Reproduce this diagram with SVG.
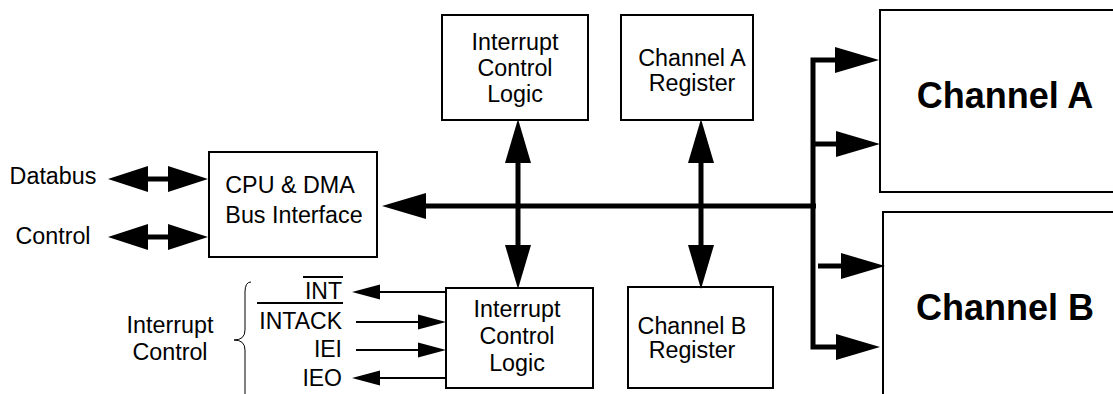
<svg xmlns="http://www.w3.org/2000/svg" width="1113" height="394" viewBox="0 0 1113 394">
<style>
.box{fill:#fff;stroke:#000;stroke-width:2}
.t{font-family:"Liberation Sans",Arial,sans-serif;font-size:23.3px;fill:#000;text-anchor:middle}
.te{font-family:"Liberation Sans",Arial,sans-serif;font-size:23px;fill:#000;text-anchor:end}
.tb{font-family:"Liberation Sans",Arial,sans-serif;font-size:36px;font-weight:bold;fill:#000;text-anchor:middle}
.bus{fill:none;stroke:#000;stroke-width:5;stroke-linejoin:miter}
.thin{fill:none;stroke:#000;stroke-width:2}
</style>
<defs>
<marker id="big" markerUnits="userSpaceOnUse" markerWidth="44" markerHeight="26" refX="0" refY="13" orient="auto-start-reverse" overflow="visible">
<path d="M0,0 L44,13 L0,26 z" fill="#000"/>
</marker>
<marker id="mid" markerUnits="userSpaceOnUse" markerWidth="40" markerHeight="26" refX="0" refY="13" orient="auto-start-reverse" overflow="visible">
<path d="M0,0 L40,13 L0,26 z" fill="#000"/>
</marker>
<marker id="small" markerUnits="userSpaceOnUse" markerWidth="28" markerHeight="15" refX="0" refY="7.5" orient="auto-start-reverse" overflow="visible">
<path d="M0,0 L28,7.5 L0,15 z" fill="#000"/>
</marker>
</defs>

<g id="channelA">
<rect class="box" x="880" y="10" width="240" height="182"/>
<text class="tb" x="1005" y="108">Channel A</text>
</g>
<g id="channelB">
<rect class="box" x="883" y="212" width="240" height="200"/>
<text class="tb" x="1005" y="320">Channel B</text>
</g>
<g id="cpu">
<rect class="box" x="209" y="152" width="168" height="105"/>
<text class="t" x="290" y="193">CPU &amp; DMA</text>
<text class="t" x="294" y="223">Bus Interface</text>
</g>
<g id="icl-top">
<rect class="box" x="442" y="15" width="146" height="105"/>
<text class="t" x="515" y="50">Interrupt</text>
<text class="t" x="515" y="76">Control</text>
<text class="t" x="515" y="102">Logic</text>
</g>
<g id="regA">
<rect class="box" x="621" y="15" width="132" height="105"/>
<text class="t" x="692" y="66">Channel A</text>
<text class="t" x="692" y="91">Register</text>
</g>
<g id="icl-bottom">
<rect class="box" x="446" y="288" width="147" height="100"/>
<text class="t" x="517" y="317">Interrupt</text>
<text class="t" x="517" y="344">Control</text>
<text class="t" x="517" y="371">Logic</text>
</g>
<g id="regB">
<rect class="box" x="628" y="287" width="145" height="101"/>
<text class="t" x="692" y="334">Channel B</text>
<text class="t" x="692" y="358">Register</text>
</g>
<g id="labels">
<text class="t" x="53" y="184">Databus</text>
<text class="t" x="53" y="244">Control</text>
<text class="t" x="170" y="333">Interrupt</text>
<text class="t" x="170" y="360">Control</text>
<text class="te" x="342" y="299">INT</text>
<text class="te" x="342" y="329">INTACK</text>
<text class="te" x="342" y="357">IEI</text>
<text class="te" x="342" y="386">IEO</text>
<line class="thin" x1="303" y1="277" x2="343" y2="277"/>
<line class="thin" x1="257" y1="303" x2="343" y2="303"/>
<path d="M251,282 Q245,282 245,292 V330 Q245,340 234,340 Q245,340 245,350 V394" fill="none" stroke="#000" stroke-width="1"/>
</g>

<g id="connectors">
<path class="bus" d="M148,179 H168" marker-start="url(#mid)" marker-end="url(#mid)"/>
<path class="bus" d="M148,237 H168" marker-start="url(#mid)" marker-end="url(#mid)"/>
<path class="bus" d="M426,206 H816" marker-start="url(#big)"/>
<path class="bus" d="M518,163 V245" marker-start="url(#big)" marker-end="url(#big)"/>
<path class="bus" d="M701,163 V245" marker-start="url(#big)" marker-end="url(#big)"/>
<path class="bus" d="M835,60 H813 V347 H836" marker-start="url(#big)" marker-end="url(#big)"/>
<path class="bus" d="M813,144 H836" marker-end="url(#big)"/>
<path class="bus" d="M818,266 H841" marker-end="url(#big)"/>
<path class="thin" d="M446,292 H380" marker-end="url(#small)"/>
<path class="thin" d="M356,322 H418" marker-end="url(#small)"/>
<path class="thin" d="M356,350 H418" marker-end="url(#small)"/>
<path class="thin" d="M446,378 H380" marker-end="url(#small)"/>
</g>
</svg>
